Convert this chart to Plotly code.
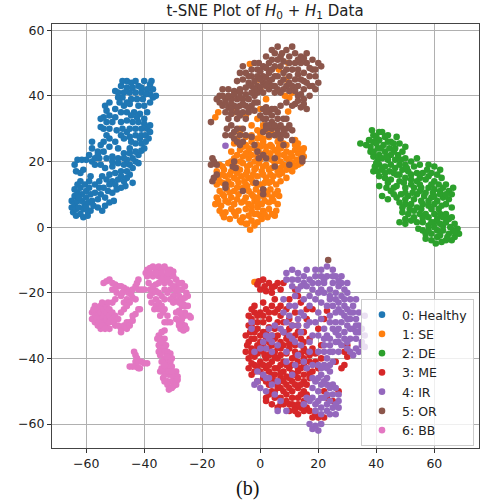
import plotly.graph_objects as go

labels = ["0: Healthy", "1: SE", "2: DE", "3: ME", "4: IR", "5: OR", "6: BB"]
colors = ["#1f77b4", "#ff7f0e", "#2ca02c", "#d62728", "#9467bd", "#8c564b", "#e377c2"]
x_ticks = [-60, -40, -20, 0, 20, 40, 60]
y_ticks = [-60, -40, -20, 0, 20, 40, 60]

healthy = [(-65,6),(-65,8),(-64.5,4.5),(-64,7),(-64,9.5),(-63.5,5.5),(-63.5,3.5),(-63,8),(-63,10.5),(-62.5,6),(-62,4),(-62,12),(-61.5,8),(-61.5,10),(-61,3),(-61,5.5),(-60.5,7),(-60.5,13),(-60,9),(-60,11),(-59.5,3.5),(-59.5,5),(-59,7.5),(-59,14),(-58.5,5),(-58.5,10),(-58,8),(-59,12),(-58.5,15.5),
(-56,6),(-54.5,5),(-53.5,6.5),(-56,8.5),(-55,10),(-53.5,9),(-52,7.5),(-50.5,8),(-55.5,12),(-54,12),(-52.5,11),(-51,10.5),(-49.5,11.5),(-48,12),(-46.5,12.5),(-47,14),(-49,14.5),(-51,14),(-53,14.5),(-54.5,15.5),(-52,16),(-50,16.5),(-48,17),(-46,17),(-45,16),(-44,13.5),(-53.5,18),(-51,18.5),(-49,19.5),(-47,19),(-45,19),(-43,20),
(-64,19),(-63.5,17),(-62,16.5),(-61,17.5),(-63,20.5),(-61.5,20.5),(-60,20.5),(-58,20),(-57,19),(-55,19),(-55.5,21),(-53,21),(-51,21.5),(-49,21),(-46,20.5),(-44,21),(-42,22),(-41,23.3),
(-58,24),(-56,23),(-54,23),(-52,24.5),(-50,26),(-49,24),(-47,22.5),(-45,22.5),(-43,23),(-54,26),(-52,27),(-57,21),(-55,25),(-53,28),
(-45,24),(-43,25.5),(-41,25.5),(-39.5,26),(-47,27),(-45,27.5),(-43,28),(-41,28),(-39.5,28),(-39,30),(-41,30),(-43,30),(-45,30),(-47.5,30),(-49.5,29.5),(-52,30),(-54,30),(-55,30.5),(-48,32),(-46,32.5),(-44,32),(-42,32),(-40,33),(-53,32),(-51,32),(-54,33.5),(-52,34),(-50,33.5),(-41.5,34.5),(-43.5,35),(-46,35),(-48,35),(-50,36),(-47,37),(-45,37.5),(-42,37),(-40,37),(-53.5,37),(-52,38),(-48.5,38),(-46,38),(-44.5,39),(-42.5,39),(-40.5,39),(-38,38),(-37,39.5),(-36,40),(-38,40.5),(-41,41),(-43,41),(-45,41),(-47,41),(-49,41),(-48,43),(-46,42.5),(-46,44.5),(-43,44.5),(-40,44.5),(-38,43.5),(-37,42),(-44,42.5),(-41,42.5),(-39,42),
(-62.5,9),(-64,11.5),(-60,6),(-57.5,6.5),(-62,14),(-63,13),(-57,10.5),(-57,13),(-55.5,14),(-52,13),(-50,13),(-48,15.5),(-46,15),(-51,20),(-47,21),(-44,18),(-42,19.5),(-40,24),(-41.5,27),(-42.5,33.5),(-44.5,34),(-46,29),(-40,31.5),(-38,29),(-38.5,27),(-44.5,26),(-48,28),(-38,31),(-39,35),(-49,39.5),(-47.5,39.5),(-39.5,40.5),(-37.5,44.5),(-44.5,44),(-42,43),(-47.5,44.5),(-50,41.5),(-55,33),(-53,35.5),(-56,22),(-59,22),(-58,26)]

se = [(-3.5,-0.8),(-6.5,1.5),(-4.5,1),(-3,2),(-1,1.5),(0.5,2.5),(-12.5,3),(-10.5,2.5),(-8.5,3.5),(-6,3),(-4,3.5),(-2,4),(0,3.5),(2.5,3),(5,3.5),(-14,5),(-12,4.5),(-10,5.5),(-7.5,5),(-5,5.5),(-3,5),(-1,6),(1,5),(3,5.5),(5.5,5),(-15.5,7),(-13.5,6.5),(-11,7.5),(-9,7),(-6.5,7.5),(-4,7),(-2,8),(0.5,7),(3,7.5),(6,7),(-15,9),(-12.5,9.5),(-10,9),(-7.5,10),(-5,9),(-3,10),(-1,9),(1,9.5),(4,9),(6.5,9.5),(-14,11),(-11.5,11.5),(-9,11),(-6,12),(-4,11),(-1.5,11.5),(1.5,11),(3.5,11.5),(6,11),
(-15,13),(-13,13.5),(-10,13),(-7.5,13.5),(-5,13),(-2.5,13.5),(0,13),(3,13.5),(5.5,13),(7,14),(-14.5,15),(-12,15.5),(-9,15),(-6.5,15.5),(-4,15),(-1,15.5),(2,15),(4.5,15.5),(6.5,16),(9,15),(-15,17),(-12.5,17.5),(-10,17),(-7,17.5),(-4.5,17),(-2,17.5),(0.5,17),(3,17.5),(6,17),(9,17.5),(11,17),(-14,19),(-11,19.5),(-9,19),(-6,19.5),(-3.5,19),(-0.5,19.5),(2,19),(5,19.5),(8,19),(11,19.5),(13,19),
(-9,21),(-6,21.5),(-4,21),(-1,21.5),(3,21),(6,21.5),(9,21),(11,21.5),(14,21),(15,21.5),(-10,23),(-7,23.5),(-4,23),(-2,24),(2,23),(5,23.5),(7,24),(9,23),(12,23.5),(14.5,23),(13,25.5),(-9,25.5),(-5,25),(-3,26),(-1,25),(1,26),(3.5,25),(6,26),(8,25.5),(12,26.5),(-8,27),(-5,27.5),(-1,27),(0,28.5),(3,27.5),(5.5,28),
(-7,30),(-3,31),(-1,29.5),(-1,33),(1,31),(3,29),(0,36),(-5,34),(-9,35),(-14.5,35),(-15.5,33.5),(9.6,35.2),(10,39.5),(8.5,40),(11,41),(2,39),(0,42),(-0.5,45),(6.4,48),(-3.6,49.7),(9.6,50),(8.9,45),(-1.5,-16.7),(-2,-16.7),
(-5,1),(-2,0.5),(-13,4),(-9,4.5),(-7,2),(-1,4),(1.5,4),(4,4),(-14.5,8),(-12,8),(-8,8.5),(-5.5,8),(-3,6.5),(-1,7.5),(1.5,8),(4.5,8),(-13,10),(-10.5,10.5),(-8,12),(-4.5,12.5),(-2.5,9.5),(0,10.5),(2.5,10),(5,10),(-14,14),(-11,14),(-8,14.5),(-5.5,14),(-3,14.5),(-1,13),(1.5,13.5),(4,14),(-13,16),(-10.5,16),(-8,16.5),(-5,16),(-2.5,16),(1,16),(3.5,16),(7.5,16.5),(-13,18.5),(-8,18),(-4.5,18.5),(-1.5,18),(1,18.5),(4,18),(7,18),(10,18),(12,18.5),(-10,20),(-7,20),(-2,20),(0,20.5),(4,20.5),(7,20),(10,20),(12.5,20.5),(14,19.5),(-8,22),(-5,22.5),(-3,22),(0,22.5),(3.5,22.5),(6,22.5),(8,22),(10.5,22.5),(13,22.5),(-6,24.5),(-4,24),(0,24.5),(2,24.5),(4,24.5),(6.5,24.5),(9,25),(13,24),(15,24),(12,25),(-3,28),(1,27),(4,28.5),(6.5,27),(-7,28.5),(1,29.5)]

de = [(34.5,25.5),(36.5,25),(38.5,29.5),(39,28),(39,26),(38,24.5),(38,23),(39,21.5),(40,27.5),(41,29),(41,26.5),(40.5,24),(41,22),(40.5,20.5),(42,29),(43,27.5),(42.5,25),(43,23),(42,21),(44,28),(45,26),(44.5,24),(45,22),(44,20.5),(47,27.5),(48,25.5),(46.5,24),(47.5,22),(46.5,20.5),(50,24.5),(49,23),(50,21),(52,20),(54,21),(50,19),(48,19),
(39.5,18.5),(39,17),(41,19),(42,17.5),(41,15.5),(43,15),(45,19),(44.5,17),(46.5,18),(47,16),(45,14.5),(49,17.5),(51,17),(53,18.5),(55,19),(58,19),(60,18.5),(62,17.5),(56,16.5),(59,16.5),(50,15),(48,14),(52,14.5),(54,14),(57,14.5),(60,14),(62.5,15),(64,13),(41,12.5),(43.5,12),(46,12),(50,12),(53,12),(55.5,12),(58,12),(60,11.5),(62,11),(65,11),(42,9.5),(44,8.5),(46,10),(48.5,10),(51,9.5),(54,10),(56.5,9.5),(59,9),(61,8),(63,9),(65,8.5),(66,10),(64,7),(61.5,5.5),(48,7.5),(50,7),(52,7),(54,6),(56,7),(58,6.5),(60,7),
(49,4.5),(51,4),(53,5),(55,4),(57,4),(48,1.5),(50,1),(52,2),(54,1.5),(56,1.5),(58,3),(60,4),(62,4),(64,4),(66,3),(67,1),(54.5,-0.5),(56,-1),(58,0.5),(60,1.5),(62,1),(64,1.5),(65.5,0),(68,-0.5),(68.5,-2),(67,-3),(65,-2),(63,-1),(61,-1),(59,-2),(57,-2),(57,-3.5),(59,-4),(61,-3),(60.5,-5),(62.5,-4.5),(64,-4),(66,-4),(62,-2.5),
(37.5,26.5),(40,25.5),(39,23),(40,19.5),(41.5,24),(44,26),(43.5,21.5),(46,25.5),(46,23),(48.5,20.5),(40.5,17),(43,18.5),(43,16.5),(46,16.5),(48,16),(50.5,18),(52,16),(54,16.5),(57.5,17.5),(61,16),(55,15),(58,15.5),(44,13.5),(47,12.5),(49.5,13.5),(52,13),(55,13),(59,13),(61.5,13),(63,12),(45,11),(47,9),(50,10.5),(52.5,10.5),(55,11),(57,10.5),(59.5,10.5),(62,10),(64,10),(66.5,12),(50,8.5),(53,8.5),(55.5,8),(58,8),(60,9.5),(49,6),(51.5,5.5),(55.5,5.5),(59,5.5),(62.5,6.5),(66,6),(50,2.5),(53,3),(56,2.8),(59,1.5),(61,2.5),(63,3),(65,2.5),(60,0),(63,0.5),(66.5,-1),(58,-1),(64.5,-3),(67,-1.5)]

me = [(-0.5,-16.5),(1,-16),(3,-17),(5,-18),(8,-17),(0,-19),(2,-19.5),(4,-20),(7,-19),(12,-19),(13,-21),(1,-23),(5,-22),(7,-24),(10,-22),(14,-23),(-2,-24),(-2,-26),(-3,-28),(-4,-27),(0,-26),(2,-25),(5,-26),(7,-27),(9,-25),(12,-26),(16,-25),(18,-25),(23,-25.5),(22,-28),
(-3,-30),(-1,-29),(1,-29),(3,-28),(6,-29),(8,-29),(10,-28),(13,-30),(16,-28),(-2,-32),(1,-32),(3,-30.5),(5,-31),(8,-32),(10,-31),(12,-33),(15,-32),(20,-31),(-5,-33),(-4,-35),(-2,-34),(0,-35),(2,-34),(5,-34),(7,-35),(9,-34),(11,-35),(14,-34),(17,-34),(-5,-38),(-3,-37),(-1,-37),(1,-38),(3,-37),(5,-38),(7,-37),(10,-37),(12,-38),(15,-37),(18,-37),(21,-36),
(-4,-40),(-2,-39.5),(0,-41),(2,-40),(4,-41),(6,-40),(8,-41),(11,-40),(13,-41),(15,-40),(17,-39),(19,-41),(21,-40),(-4,-43),(-2,-42),(-3,-45),(0,-44),(2,-43),(4,-45),(6,-43),(8,-44),(10,-43),(12,-45),(14,-43),(16,-43),(18,-44),(30,-36),(29,-38),(30,-39.5),(29,-42),(28,-43),(26,-41),(-1,-47),(1,-46),(3,-48),(5,-47),(7,-46),(9,-48),(11,-47),(13,-46),(15,-47),(17,-46),
(4,-50),(6,-49),(8,-50),(10,-49),(13,-49),(15,-50),(2,-52),(5,-52),(7,-52),(9,-51),(11,-52),(13,-52),(15,-53),(4,-54),(6,-55),(8,-54),(10,-54),(12,-55),(14,-55),(10,-56),(13,-57),(15,-56),(17,-56),(19,-57),(20,-58),(22,-58),(2,-53),(23,-52),(25,-53),(22,-50),(27,-50),
(-1,-17.5),(1.5,-18),(4,-18.5),(6,-17),(-3,-25),(-1,-27),(1,-27),(3,-26),(4,-24),(6,-25),(-4,-30),(-3.5,-32),(-1,-31),(0,-33),(2,-32),(4,-33),(6,-33),(9,-32.5),(11,-30),(13,-32),(-4.5,-36),(-3,-34),(-1,-36),(1,-36),(3,-35),(4,-36),(6,-36.5),(8,-36),(10,-35.5),(12,-36),(15,-35),(-3,-38.5),(-1,-38.5),(1.5,-39),(3,-39),(5,-39.5),(7,-39),(9,-38.5),(12,-39.5),(14,-38.5),(16,-38),(19,-38.5),(-3,-41.5),(-1,-42.5),(1,-42),(3,-42),(5,-43),(7,-42),(9,-42),(11,-42),(13,-43),(15,-42),(17,-41),(20,-43),(-2,-44),(1,-45),(3,-44),(5,-45),(7,-44.5),(9,-45.5),(11,-44.5),(13,-44),(15,-45),(17,-44.5),(2,-47),(4,-46.5),(6,-48),(8,-47),(10,-46),(12,-48),(14,-48),(16,-48),(5,-50.5),(7,-49),(9,-53),(11,-50),(14,-51),(16,-51),(3,-51),(7,-54),(11,-54),(13,-54),(16,-55),(12,-56),(18,-58)]

ir = [(9,-14),(11,-13),(13,-14),(15,-15),(16,-13),(19,-13),(21,-13),(23,-12),(25,-13),(28,-15),(9,-16),(11,-16),(13,-16),(15,-17),(17,-16),(19,-15),(21,-15),(23,-15),(26,-15),(28,-17),(30,-17),(11,-18),(13,-19),(16,-18),(18,-19),(20,-17),(22,-17),(25,-17),(27,-18),(29,-19),(17,-21),(20,-20),(22,-20),(24,-19),(26,-20),(28,-21),(30,-20),(31,-22),(15,-22),(12,-24),(19,-22),(21,-23),(24,-22),(27,-23),(29,-24),(32,-26),(34,-26),(36,-27),(8,-26),(10,-27),(14,-26),(17,-24),(20,-26),(23,-24),(26,-26),(29,-27),(31,-28),(33,-28),(34,-30),
(3,-31),(4,-33),(2,-33),(1,-35),(5,-30),(13,-30),(17,-29),(19,-29),(22,-31),(24,-29),(26,-29),(28,-29),(30,-30),(32,-31),(34,-32),(36,-33),(18,-33),(20,-33),(23,-33),(25,-31),(27,-33),(29,-32),(31,-34),(33,-34),(35,-35),(14,-36),(11,-34),(9,-38),(17,-35),(22,-36),(24,-36),(26,-35),(28,-36),(30,-35),(33,-37),(35,-36),(36,-36.5),(34,-38),(32,-39),(25,-38),(27,-38),(31,-38),(20,-38),(23,-40),(24,-42),
(-3,-31),(-3,-29),(8,-32),(12,-42),(16,-43),(18,-46),(18,-42),(20,-42),(22,-42),(24,-44),(23,-46),(21,-45),(19,-47),(21,-48),(23,-48),(25,-48),(18,-49),(20,-50),(16,-52),(18,-52),(19,-54),(21,-52),(23,-51),(25,-51),(27,-51),(27,-53),(25,-55),(23,-54),(21,-55),(19,-56),(17,-53),(27,-55),(15,-54),(3,-46),(1,-45),(-1,-47),(-2,-48),(0,-49),(-1,-44),(2,-46),(4,-48),(7,-53),(9,-56),(6,-56),(17,-60),(19,-60.5),(21,-60),(18,-61.5),(20,-62),(24,-57),(26,-57),(-12,24.8),
(14,-18),(18,-17),(22,-16),(25,-15),(27,-16.5),(24,-21),(26,-22),(29,-22),(25,-24),(27,-25),(21,-19),(30,-25),(32,-24),(33,-22),(28,-26),(24,-27),(31,-26),(21,-28),(33,-30),(30,-28),(27,-31),(26,-32),(22,-34),(24,-34),(29,-34),(31,-31),(33,-32),(27,-35),(35,-31),(30,-37),(24,-38),(22,-38),(25,-41),(23,-43),(21,-43),(22,-47),(20,-46),(24,-49),(26,-49),(22,-52),(20,-53),(24,-53),(26,-54),(21,-57),(23,-56),(2,-37),(4,-35),(3,-34),
(8,-22),(10,-24),(12,-21),(13,-28),(15,-27),(11,-30),(9,-29),(7,-31),(14,-32),(12,-35),(16,-30),(10,-33),(6,-36),(13,-39),(15,-41),(17,-38),(9,-41),(11,-45),(6,-47),(5,-51),(2,-50),(-2,-38),(0,-37),(4,-38)]

or_ = [(-4,44),(-6,45),(-8,44.5),(-7,42),(-5,42.5),(-3,43),(-1,43),(1,44),(-3,46),(-1,46),(-6,49),(-5,47),(-3,48),(-1,48),(1,46),(3,47),(5,46),(-0.5,50),(1,49),(3,50),(2,52),(4,51),(5,53),(6,55),(7.5,53),(4,54),(9,54),(11,55),(12,53),(14,52),(16,53),(18,51),(20,50),(21,49),(7,52),(10,52),(12,50),(14,50),(16,50),(18,48),(11,48),(13,48),(15,47),(17,46),(19,46),(20,44),(9,48),(7,49),(5,49),(6,46),(8,47),(10,46),(12,45),(14,45),(16,44),(18,43),(3,44),(5,43),(7,44),(9,43),(11,43),(13,43),(15,42),(17,40),(-1,41),(1,41),(3,42),(5,41),(7,41),(13,40),(15,39),(12,37.5),(14,36.5),(16,36),(9,38),(7,37),(1,36),(3,35),
(-14,40),(-13,42),(-11,42),(-9,41.5),(-7,41),(-14,38),(-12,39),(-10,39),(-8,39),(-6,39),(-4,39),(-2,40),(-13,37),(-11,36.5),(-9,37),(-7,37),(-5,37),(-3,37),(-1,38),(-12,35),(-10,34.5),(-8,35),(-6,35),(-4,35),(-2,35.5),(2,36.5),(4,36),(-8,33),(-10,31),(-11.5,30),(-12,28),(-9,29),(-7,28),(-8,26),(-6,30),(-5,28),(-3,27.5),(-6,26),
(0,34),(2,33),(4,32),(6,33),(8,33),(2,31),(4,30),(6,30),(8,30),(10,31),(11,29.5),(1,29),(3,28),(5,28),(7,28),(9,28),(-17,32),(-9,20),(-15,19),(-16.5,21),(-17,19),(-16,20),(-15,16),(-16.5,14),(-16,15),(-9.5,18.5),(-8.5,18),(-12,13),(-12,12),(-6,11),(-1.5,13.5),(1,11.5),(1,10),(-0.5,21),(1,22),(2,21),(5,21),(5,18.5),(10,19),(14.5,21),(14.5,20),(7,27),(8,25),(11,26.5),(-2,25),(-1,23),(23.4,-10),
(-2,44.5),(0,45),(2,45.5),(4,45),(-4,46),(-7,47),(-2,50),(0,47.5),(2,48.5),(4,48),(6,51),(8,50.5),(10,50),(13,51),(15,51.5),(17,48.5),(19,48),(8,45),(10,44),(13,46.5),(15,44.5),(17,43),(19,42),(4,43),(2,43),(0,42.5),(-2,42),(6,42),(8,42),(10,41.5),(12,41.5),(14,40.5),(-15,39),(-13,40),(-11,40),(-9,40.5),(-7,39.5),(-5,40.5),(-3,41),(-12,38),(-10,37.5),(-8,36.5),(-6,37.5),(-4,36),(-2,38),(-10,36),(-7,34),(-5,33),(-11,33),(-10,28),(-8,30),(-9,27),(-7,25),(2,35),(4,34),(6,35),(5,36),(9,33),(1,33),(3,31),(5,31),(7,31),(9,30),(2,30),(6,28.5),(8,28.5),(15,37.5),(13,38.5),(11,37)]

bb = [(-58,-26),(-58,-28),(-57,-24),(-57,-26.5),(-57,-29),(-56,-25),(-56,-27),(-56,-30),(-55,-24),(-55,-26),(-55,-28),(-55,-31),(-54,-25),(-54,-27),(-54,-29),(-53,-24),(-53,-26),(-53,-28),(-53,-30),(-52,-25),(-52,-27),(-52,-29),(-52,-31),(-51,-23),(-51,-26),(-51,-28),(-50,-27),(-50,-30),(-49,-28),(-48,-31),(-48,-32),(-47,-30),(-46,-29),(-45,-29),(-44,-27),(-43,-26.5),(-42,-25),(-41.5,-25),(-48,-26),(-47,-25),
(-54,-17),(-53,-16.5),(-52,-16),(-51,-17),(-50,-17.5),(-49,-18),(-48,-18),(-47,-18.5),(-46,-19),(-45.5,-20),(-48,-21),(-49.5,-20),(-50,-22),(-47,-23),(-46,-22),(-45,-23),(-44,-21.5),(-43,-22),
(-44,-19),(-43,-18),(-42.5,-17),(-42,-16),(-42,-19),(-41,-19),(-40,-19),
(-39.5,-14),(-39,-13),(-38,-12.5),(-37,-12),(-36,-13),(-35,-12),(-34,-13),(-33,-12),(-32,-13),(-31,-13),(-30,-13.5),(-39,-15),(-37,-15),(-35,-15),(-33,-15),(-31,-15),(-29,-16),(-38.5,-17),(-38,-19),(-37,-20),(-36,-19.5),(-35,-20),(-36,-17.5),(-33,-17),(-31,-17),(-29,-18),(-27,-17),(-26,-18),(-33,-19),(-31,-19),(-29,-19.5),(-27,-19),(-25.5,-20),(-25,-21),(-32,-20),(-30,-21),(-28,-21),(-26,-21.5),(-31,-22),(-29,-22.5),(-27,-22),(-34,-21),
(-37.5,-23),(-36,-22),(-36,-24),(-35,-23),(-35,-25),(-34,-24),(-33.5,-26),(-33,-25),(-32,-27),(-32,-29),(-31,-29),(-27,-24),(-26,-24),(-25,-24),(-26,-26),(-24.5,-27),(-24,-27.5),(-26,-27),(-28,-25.5),(-27.5,-26.5),(-29,-28),(-28,-29),(-27,-29.5),(-26,-30),(-27.5,-31),(-26.5,-31.5),(-25.5,-31),
(-33,-31.5),(-34,-32),(-35,-33),(-35.5,-34),(-34,-34),(-33,-34),(-35,-36),(-33.5,-35.5),(-32.5,-36),(-34.5,-37),(-33,-37),(-34,-38),(-33,-38),(-32,-38),(-31,-38.5),(-33,-40),(-31.5,-40),(-34,-41),(-32,-41.5),(-30.5,-40),(-31,-41),
(-34.5,-44),(-34,-43),(-33,-44),(-32,-43),(-30.5,-42.5),(-30,-44),(-29,-44),(-33,-45),(-31.5,-45),(-30,-45.5),(-28.5,-45.5),(-33.5,-46),(-32,-47),(-30.5,-47),(-29,-47),(-32,-48),(-31,-49),(-30,-48.5),(-29,-48),(-31.5,-49.5),
(-43.5,-38),(-43,-39),(-42.5,-40),(-43,-41),(-42,-41),(-41,-41),(-40,-41.5),(-39,-41.5),(-45,-42.5),(-44,-42.5),(-43,-42.5),(-42,-43),(-41.5,-43),
(-57.5,-25),(-56.5,-28),(-55.5,-29),(-54.5,-30),(-53.5,-31),(-54.5,-23),(-52.5,-23),(-50.5,-29),(-49,-30),(-46,-31),(-45,-30),(-44,-28.5),(-51,-19),(-50,-19),(-47.5,-20),(-46,-24),(-44.5,-20.5),(-38,-14),(-36,-14),(-34,-14),(-32,-14),(-30,-15),(-28,-17),(-32,-16),(-34,-16),(-30,-18),(-28,-19),(-35,-17),(-37,-18),(-38,-21),(-30,-23),(-28,-23),(-26.5,-23.5),(-33,-22),(-36.5,-25),(-34.5,-27),(-33,-29),(-29,-26),(-27,-28),(-28,-30),(-34.5,-35),(-35,-38),(-34.5,-39),(-32,-39.5),(-33,-42),(-31.5,-44),(-33,-47),(-30.5,-44),(-30.5,-49),(-28.5,-46.5)]

all_pts = [healthy, se, de, me, ir, or_, bb]

fig = go.Figure()
for name, color, pts in zip(labels, colors, all_pts):
    fig.add_trace(go.Scatter(x=[p[0] for p in pts], y=[p[1] for p in pts], mode="markers", name=name,
                             marker=dict(color=color, size=6.6, line=dict(width=0))))

axis = dict(showgrid=True, gridcolor="#b0b0b0", gridwidth=1, zeroline=False, showline=True, linecolor="#444444",
            linewidth=1.2, mirror=True, ticks="outside", ticklen=4, tickcolor="#333333", tickwidth=1,
            tickfont=dict(family="DejaVu Sans", size=12.5, color="#222222"))
fig.update_xaxes(range=[-71.8, 75.4], tickvals=x_ticks, **axis)
fig.update_yaxes(range=[-67.3, 61.9], tickvals=y_ticks, **axis)
plot_w = 483 - 52 - 4
plot_h = 504 - 24 - 56
fig.update_layout(
    width=483, height=504, autosize=False, margin=dict(l=52, r=4, t=24, b=56),
    plot_bgcolor="white", paper_bgcolor="white", showlegend=True,
    title=dict(text="t-SNE Plot of <i>H</i><sub>0</sub> + <i>H</i><sub>1</sub> Data", x=265/483, xanchor="center",
               y=1-11/504, yanchor="middle", font=dict(family="DejaVu Sans", size=15, color="#222222")),
    legend=dict(x=(361-52)/plot_w, y=(448-299)/plot_h, xanchor="left", yanchor="top",
                bgcolor="rgba(255,255,255,0.8)", bordercolor="#cccccc", borderwidth=1,
                entrywidth=62, entrywidthmode="pixels",
                font=dict(family="DejaVu Sans", size=12.5, color="#222222")),
    annotations=[dict(text="(b)", x=(247-52)/plot_w, y=(448-488)/plot_h, xref="paper", yref="paper", showarrow=False,
                      xanchor="center", yanchor="middle",
                      font=dict(family="Liberation Serif", size=20, color="#111111"))],
)
fig.write_html("out.html", post_script="document.body.style.margin='0';", config={"displayModeBar": False})
